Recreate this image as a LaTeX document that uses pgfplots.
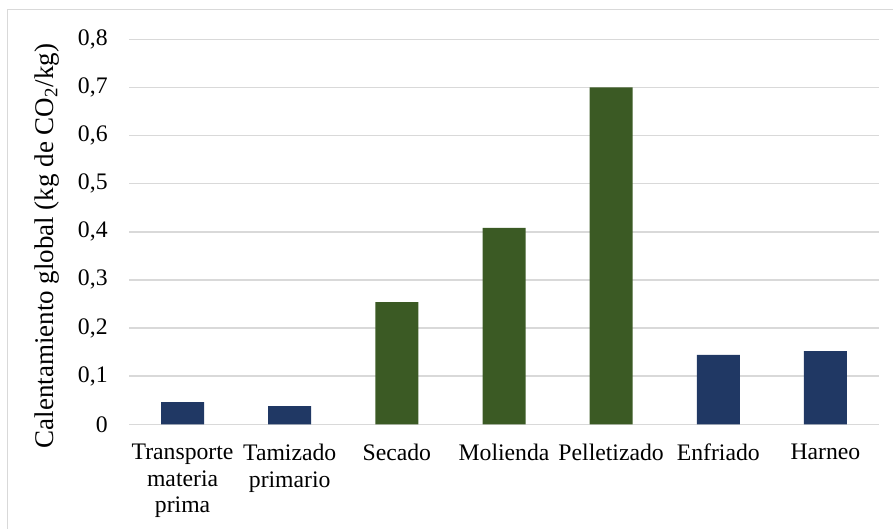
\documentclass[border=0pt]{standalone}
\usepackage{fontspec}
\setmainfont{Liberation Serif}
\usepackage{pgfplots}
\pgfplotsset{compat=1.18}

\definecolor{navybar}{HTML}{203864}
\definecolor{greenbar}{HTML}{3B5A24}
\definecolor{gridgray}{HTML}{D9D9D9}

\begin{document}
\begin{tikzpicture}
\useasboundingbox (0,0) rectangle (446.5pt,264.5pt);
% chart area frame
\draw[gridgray, line width=0.75pt] (3.75pt,0pt) -- (3.75pt,259.75pt) -- (446.5pt,259.75pt);
\begin{axis}[
  at={(64.5pt,52.35pt)}, anchor=south west,
  scale only axis, width=375pt, height=192.5pt,
  xmin=-0.5, xmax=6.5, ymin=0, ymax=0.8,
  xtick={0,1,2,3,4,5,6},
  xticklabels={{Transporte\\materia\\prima},{Tamizado\\primario},Secado,Molienda,Pelletizado,Enfriado,Harneo},
  ytick={0,0.1,0.2,0.3,0.4,0.5,0.6,0.7,0.8},
  ymajorgrids, grid style={gridgray, line width=0.75pt},
  axis line style={draw=none}, tick style={draw=none},
  /pgf/number format/.cd, fixed, fixed zerofill=false, precision=1, use comma, assume math mode=true,
  /pgfplots/.cd,
  yticklabel style={inner sep=0pt, anchor=east, font=\fontsize{11.85pt}{13.2pt}\selectfont},
  yticklabel shift=10.5pt,
  xticklabel style={inner sep=0pt, anchor=north, align=center, font=\fontsize{11.85pt}{13.2pt}\selectfont},
  xticklabel shift=9.75pt,
  ylabel={Calentamiento global (kg de CO\textsubscript{2}/kg)},
  ylabel style={at={(axis description cs:-0.1013,0.463)}, anchor=base, font=\fontsize{13.5pt}{16pt}\selectfont},
]
% processing stages with lower emissions
\addplot[ybar, bar width=21.5pt, bar shift=0pt, fill=navybar, draw=none]
  coordinates {(0,0.046) (1,0.038) (5,0.144) (6,0.152)};
% energy-intensive stages
\addplot[ybar, bar width=21.5pt, bar shift=0pt, fill=greenbar, draw=none]
  coordinates {(2,0.254) (3,0.408) (4,0.700)};
\end{axis}
\end{tikzpicture}
\end{document}
